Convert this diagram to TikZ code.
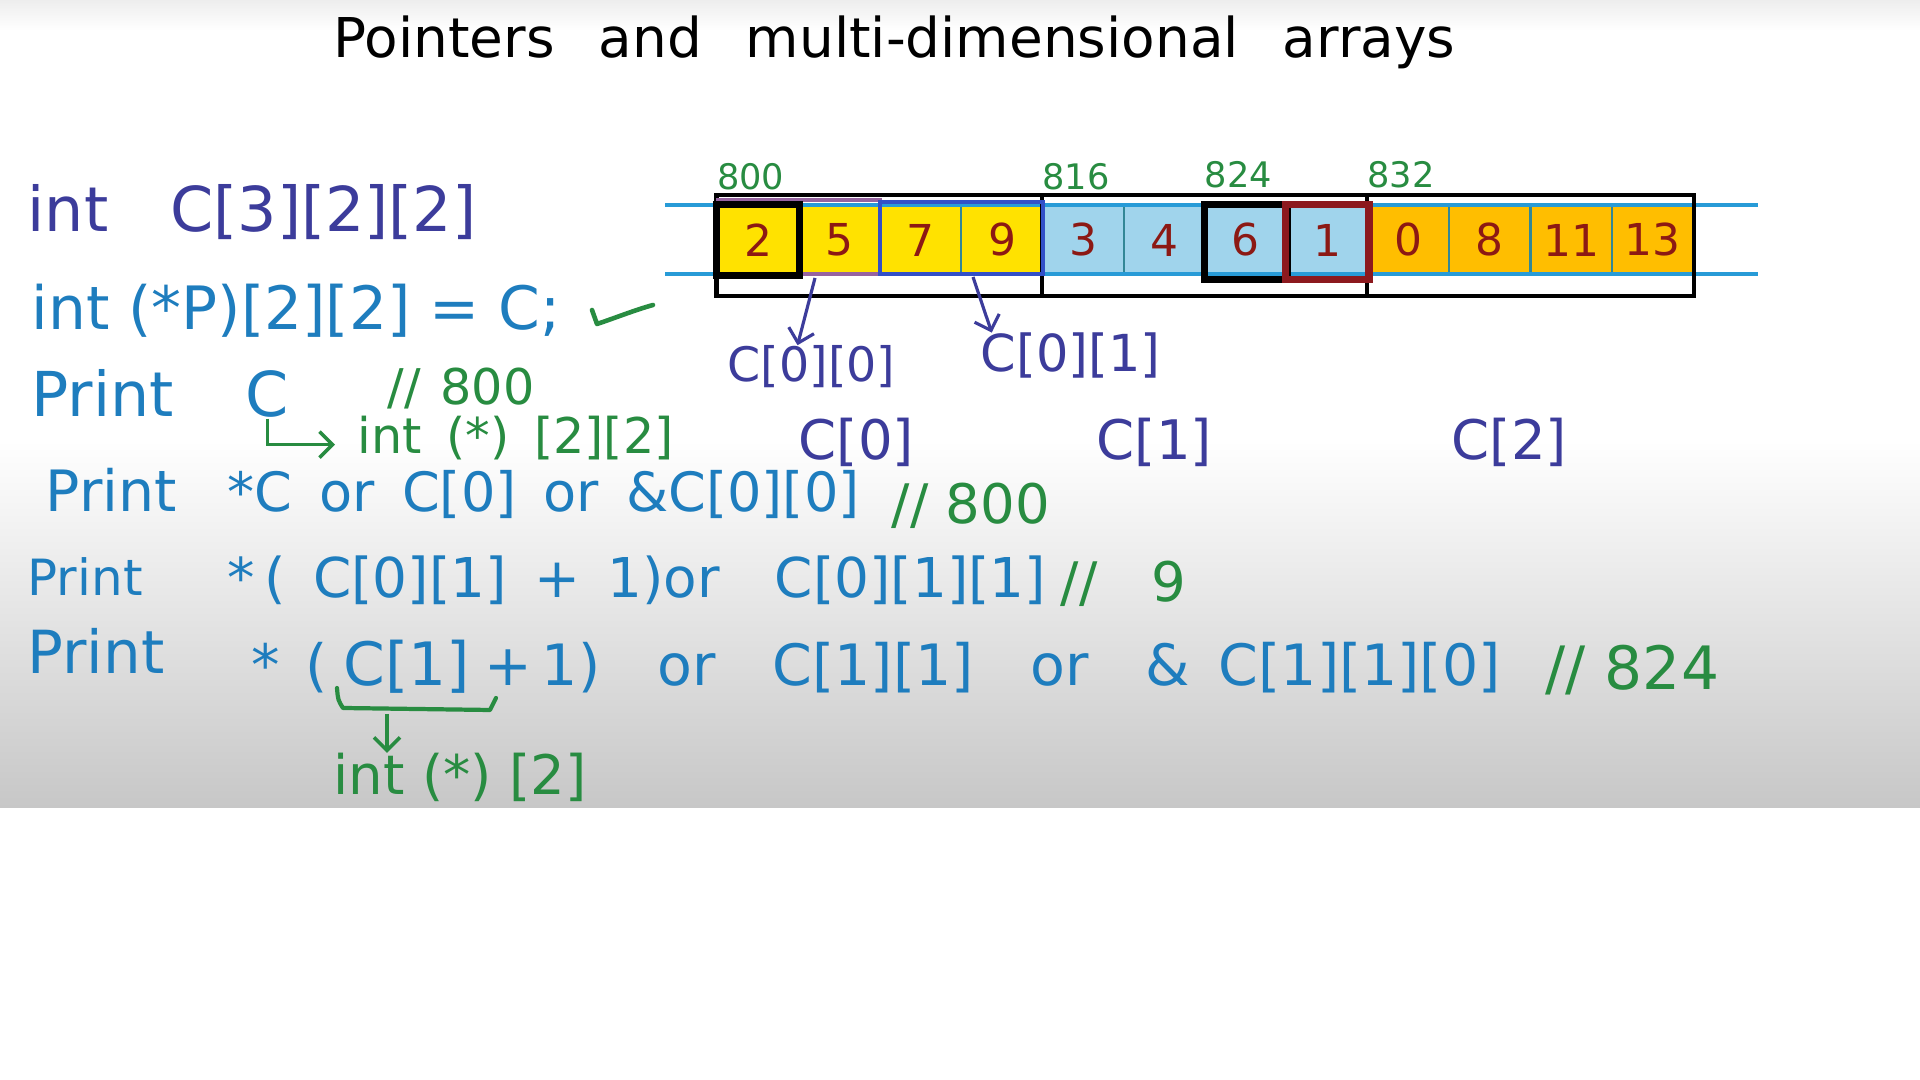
\documentclass[tikz,border=0pt]{standalone}
\usepackage{fontspec}
\setmainfont{DejaVu Sans}
\usetikzlibrary{arrows.meta,calc}
\definecolor{declcol}{RGB}{60,60,155}
\definecolor{codecol}{RGB}{30,125,190}
\definecolor{notecol}{RGB}{40,140,65}
\definecolor{numcol}{RGB}{140,25,20}
\definecolor{cyel}{RGB}{255,226,0}
\definecolor{cblu}{RGB}{160,212,236}
\definecolor{corg}{RGB}{255,190,0}
\definecolor{railcol}{RGB}{40,155,215}
\definecolor{sepcol}{RGB}{50,135,150}
\definecolor{grpcol}{RGB}{150,100,160}
\definecolor{rowcol}{RGB}{50,80,200}
\definecolor{hotcol}{RGB}{140,25,30}
\newcommand{\fsz}[1]{\fontsize{#1}{#1}\selectfont}

\begin{document}
\begin{tikzpicture}[x=0.01cm,y=-0.01cm,>={Straight Barb[length=1.3mm,width=2.6mm]},
  txt/.style={anchor=base west,inner sep=0pt},
  cell/.style={draw=sepcol,line width=0.6pt,minimum width=0.813cm,minimum height=0.68cm,inner sep=0pt,text=numcol,font=\fsz{12.5}}]
\useasboundingbox (0,0) rectangle (1920,1080);
% ---- board ----
\fill[white] (0,0) rectangle (1920,1080);
\shade[top color=black!7,bottom color=white] (0,0) rectangle (1920,30);
\shade[top color=white,bottom color=black!22] (0,440) rectangle (1920,808);
\node[txt,font=\fsz{15.6}] (title) at (333,58) {Pointers\hspace{.8em}and\hspace{.8em}multi-dimensional\hspace{.8em}arrays};

% ---- memory: 12 ints from 800 ----
\foreach \v/\col [count=\i from 0] in {2/cyel,5/cyel,7/cyel,9/cyel,3/cblu,4/cblu,6/cblu,1/cblu,0/corg,8/corg,11/corg,13/corg}
  \node[cell,fill=\col] (c\i) at ({758.15+81.3*\i},240) {\v};
\draw[railcol,line width=1.2pt] (665,205) -- (1758,205);
\draw[railcol,line width=1.2pt] (665,274) -- (1758,274);
\coordinate (memtop) at (0,195); \coordinate (membot) at (0,296);
\draw[line width=1.2pt] (c0.west |- memtop) rectangle (c11.east |- membot);
\draw[line width=1.2pt] (c4.west |- memtop) -- (c4.west |- membot);
\draw[line width=1.2pt] (c8.west |- memtop) -- (c8.west |- membot);
% C[0][0], C[0][1] and the cells picked out
\draw[grpcol,line width=1pt] (717.5,200) rectangle (880,274);
\draw[rowcol,line width=1pt] (880,202) rectangle (1043,274);
\draw[line width=2pt] (c0.north west) rectangle (c0.south east);
\draw[line width=2pt] (c6.north west) rectangle ($(c6.south east)+(0,4)$);
\draw[hotcol,line width=2pt] (c7.north west) rectangle ($(c7.south east)+(0,4)$);
\node[txt,notecol,font=\fsz{10}] (a800) at (c0.west |- 0,190) {800};
\node[txt,notecol,font=\fsz{10}] (a816) at (c4.west |- 0,190) {816};
\node[txt,notecol,font=\fsz{10}] (a824) at (c6.west |- 0,188) {824};
\node[txt,notecol,font=\fsz{10}] (a832) at (c8.west |- 0,188) {832};
\node[txt,declcol,font=\fsz{13.5}] (e00) at (727,382) {C[0][0]};
\node[txt,declcol,font=\fsz{14.5}] (e01) at (980,372) {C[0][1]};
\coordinate (p00) at (815,278); \coordinate (p01) at (973,277);
\draw[->,declcol,line width=0.9pt] (p00) -- ($(e00.north)+(-14,0)$);
\draw[->,declcol,line width=0.9pt] (p01) -- ($(e01.north)+(-79,0)$);
\node[txt,declcol,font=\fsz{15.5}] (row0) at (798,460) {C[0]};
\node[txt,declcol,font=\fsz{15.5}] (row1) at (1096,460) {C[1]};
\node[txt,declcol,font=\fsz{15.5}] (row2) at (1451,460) {C[2]};

% ---- code lines ----
\node[txt,declcol,font=\fsz{17.6}] (decl) at (27,232) {int\hspace{1em}C[3][2][2]};
\node[txt,codecol,font=\fsz{17}] (ptr) at (31,330) {int (*P)[2][2] = C;};
\draw[notecol,line width=1.3pt,line cap=round,line join=round] (592,310) -- (597,324) .. controls (615,318) and (635,310) .. (653,305);
\node[txt,codecol,font=\fsz{17.6}] (prt1) at (31,417) {Print};
\node[txt,codecol,font=\fsz{17.6}] (cvar) at (245,417) {C};
\node[txt,notecol,font=\fsz{14}] (out1) at (387,405) {//\hspace{.4em}800};
\node[txt,notecol,font=\fsz{14}] (ctype) at (357,454) {int\enspace(*)\enspace[2][2]};
\draw[->,notecol,line width=1pt] (cvar.south) |- ($(ctype.west)+(-22,6)$);
\node[txt,codecol,font=\fsz{16.2}] (prt2) at (45,512) {Print};
\node[txt,codecol,font=\fsz{15.4}] (deref) at (227,512) {*C\enspace or\enspace C[0]\enspace or\enspace\&C[0][0]};
\node[txt,notecol,font=\fsz{15.5}] (out2) at (891,524) {// 800};
\node[txt,codecol,font=\fsz{14.2}] (prt3) at (27,596) {Print};
\node[txt,codecol,font=\fsz{15.6}] (elem) at (227,598) {*\,(\enspace C[0][1]\enspace+\enspace 1)or\quad C[0][1][1]};
\node[txt,notecol,font=\fsz{15.5}] (out3) at (1060,602) {//\quad 9};
\node[txt,codecol,font=\fsz{16.9}] (prt4) at (27,674) {Print};
\node[txt,codecol,font=\fsz{16.2}] (star) at (251,686) {*\hspace{.45em}(};
\node[txt,codecol,font=\fsz{17}] (cone) at (343,686) {C[1]};
\node[txt,codecol,font=\fsz{16.2}] (rest) at (484,686) {+\,1)\quad or\quad C[1][1]\quad or\quad\&\enspace C[1][1][0]};
\node[txt,notecol,font=\fsz{17}] (out4) at (1545,690) {//\ 824};
% C[1] is an int (*)[2]
\draw[notecol,line width=1.2pt,line cap=round,line join=round] (337,688) .. controls (338,700) .. (343,708) -- (490,710) -- (496,698);
\coordinate (bk) at (387,714);
\node[txt,notecol,font=\fsz{15.5}] (ctype2) at (333,795) {int (*) [2]};
\draw[->,notecol,line width=1pt] (bk) -- (bk |- ctype2.north);
\end{tikzpicture}
\end{document}
